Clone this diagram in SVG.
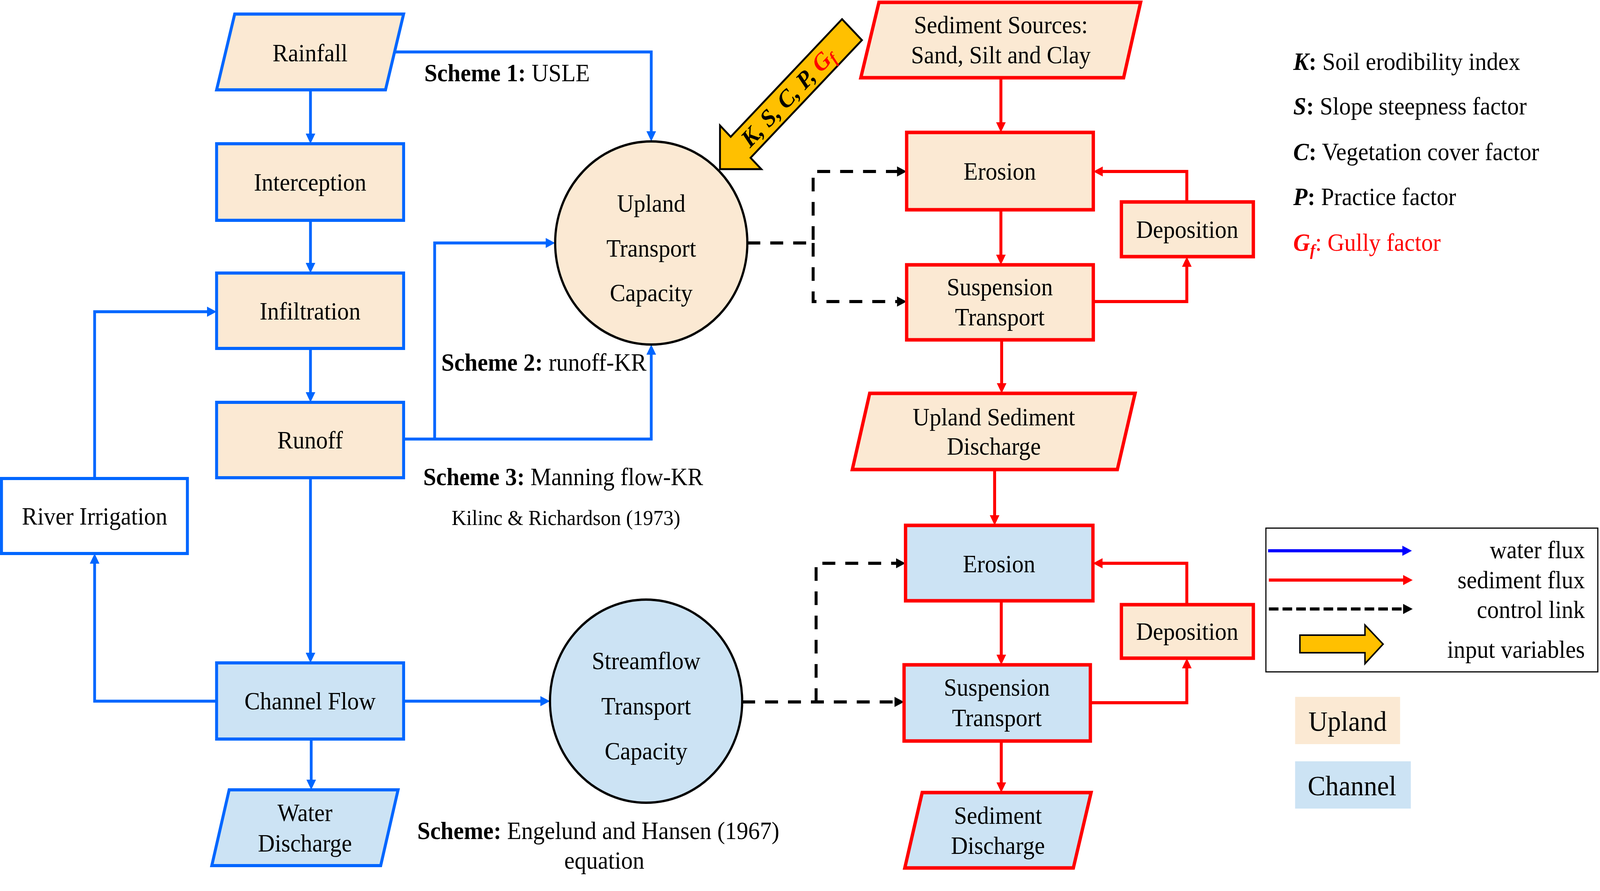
<svg xmlns="http://www.w3.org/2000/svg" width="4329" height="2281" viewBox="0 0 4329 2281">
<style>
text{font-family:"Liberation Serif","Times New Roman",serif;font-size:63px;fill:#000}
.c{text-anchor:middle}
.ub{fill:#FBE9D3;stroke:#0066FF;stroke-width:8}
.cb{fill:#CCE3F4;stroke:#0066FF;stroke-width:8}
.wb{fill:#FFFFFF;stroke:#0066FF;stroke-width:8}
.ur{fill:#FBE9D3;stroke:#FF0000;stroke-width:9}
.cr{fill:#CCE3F4;stroke:#FF0000;stroke-width:9}
.circ{stroke:#000;stroke-width:6}
.wl{fill:none;stroke:#0066FF;stroke-width:7.5;marker-end:url(#ab)}
.sl{fill:none;stroke:#FF0000;stroke-width:8;marker-end:url(#ar)}
.dl{fill:none;stroke:#000;stroke-width:8;stroke-dasharray:35 27;marker-end:url(#ak)}
</style>
<defs>
<marker id="ab" markerUnits="userSpaceOnUse" markerWidth="26" markerHeight="26" refX="6" refY="13" orient="auto"><path d="M0,0 L26,13 L0,26z" fill="#0066FF"/></marker>
<marker id="ab2" markerUnits="userSpaceOnUse" markerWidth="26" markerHeight="26" refX="6" refY="13" orient="auto"><path d="M0,0 L26,13 L0,26z" fill="#0000FF"/></marker>
<marker id="ar" markerUnits="userSpaceOnUse" markerWidth="26" markerHeight="26" refX="6" refY="13" orient="auto"><path d="M0,0 L26,13 L0,26z" fill="#FF0000"/></marker>
<marker id="ak" markerUnits="userSpaceOnUse" markerWidth="26" markerHeight="26" refX="6" refY="13" orient="auto"><path d="M0,0 L26,13 L0,26z" fill="#000"/></marker>
</defs>
<rect width="4329" height="2281" fill="#FFFFFF"/>
<g id="diagram" transform="scale(0.9462,1)">

<g id="connectors">
<path class="wl" d="M840,230 V348"/>
<path class="wl" d="M840,564 V679"/>
<path class="wl" d="M840,892 V1010"/>
<path class="wl" d="M840,1223 V1677"/>
<path class="wl" d="M842,1892 V2002"/>
<path class="wl" d="M1068,133 H1762 V342"/>
<path class="wl" d="M1092,1124 H1762 V902"/>
<path class="wl" d="M1176,1124 V622 H1482"/>
<path class="wl" d="M256,1225 V798 H566"/>
<path class="wl" d="M586,1795 H256 V1437"/>
<path class="wl" d="M1092,1795 H1468"/>

<path class="sl" d="M2708,199 V319"/>
<path class="sl" d="M2708,537 V658"/>
<path class="sl" d="M2958,772 H3211 V677"/>
<path class="sl" d="M3211,517 V439 H2978"/>
<path class="sl" d="M2710,870 V987"/>
<path class="sl" d="M2691,1202 V1325"/>
<path class="sl" d="M2709,1538 V1682"/>
<path class="sl" d="M2950,1799 H3211 V1705"/>
<path class="sl" d="M3211,1548 V1442 H2977"/>
<path class="sl" d="M2709,1897 V2009"/>

<path class="dl" d="M2022,622 H2200 V439 H2433"/>
<path class="dl" d="M2200,622 V772 H2433"/>
<path class="dl" d="M2008,1797 H2426"/>
<path class="dl" d="M2208,1797 V1442 H2430"/>
</g>

<g id="rainfall"><polygon class="ub" points="635,36 1092,36 1043,230 586,230"/><text class="c" x="839" y="157">Rainfall</text></g>
<g id="interception"><rect class="ub" x="586" y="368" width="506" height="196"/><text class="c" x="839" y="488">Interception</text></g>
<g id="infiltration"><rect class="ub" x="586" y="699" width="506" height="193"/><text class="c" x="839" y="818">Infiltration</text></g>
<g id="runoff"><rect class="ub" x="586" y="1030" width="506" height="193"/><text class="c" x="839" y="1148">Runoff</text></g>
<g id="river-irrigation"><rect class="wb" x="4" y="1225" width="503" height="192"/><text class="c" x="256" y="1343">River Irrigation</text></g>
<g id="channel-flow"><rect class="cb" x="586" y="1697" width="506" height="195"/><text class="c" x="839" y="1816">Channel Flow</text></g>
<g id="water-discharge"><polygon class="cb" points="620,2022 1077,2022 1030,2216 573,2216"/><text class="c" x="825" y="2102">Water</text><text class="c" x="825" y="2180">Discharge</text></g>

<g id="upland-capacity"><circle class="circ" cx="1762" cy="622" r="260" fill="#FBE9D3"/><text class="c" x="1762" y="542">Upland</text><text class="c" x="1762" y="657">Transport</text><text class="c" x="1762" y="771">Capacity</text></g>
<g id="streamflow-capacity"><circle class="circ" cx="1748" cy="1795" r="260" fill="#CCE3F4"/><text class="c" x="1748" y="1713">Streamflow</text><text class="c" x="1748" y="1829">Transport</text><text class="c" x="1748" y="1944">Capacity</text></g>

<g id="scheme-labels">
<text x="1148" y="208"><tspan font-weight="bold">Scheme 1:</tspan> USLE</text>
<text x="1194" y="949"><tspan font-weight="bold">Scheme 2:</tspan> runoff-KR</text>
<text x="1145" y="1242"><tspan font-weight="bold">Scheme 3:</tspan> Manning flow-KR</text>
<text x="1222" y="1344" style="font-size:55px">Kilinc &amp; Richardson (1973)</text>
<text x="1129" y="2148"><tspan font-weight="bold">Scheme:</tspan> Engelund and Hansen (1967)</text>
<text class="c" x="1635" y="2224">equation</text>
</g>

<g id="input-arrow" transform="translate(1948,433) rotate(-45)">
<polygon points="0,0 79,-79 79,-38 505,-38 505,38 79,38 79,79" fill="#FFC000" stroke="#000" stroke-width="5"/>
<text x="95" y="20" font-weight="bold" font-style="italic" style="font-size:62px">K, S, C, P, <tspan fill="#FF0000">G<tspan style="font-size:42px" dy="10">f</tspan></tspan></text>
</g>

<g id="sediment-sources"><polygon class="ur" points="2378,6 3086,6 3040,199 2329,199"/><text class="c" x="2708" y="85">Sediment Sources:</text><text class="c" x="2708" y="162">Sand, Silt and Clay</text></g>
<g id="erosion-1"><rect class="ur" x="2453" y="339" width="505" height="198"/><text class="c" x="2705" y="460">Erosion</text></g>
<g id="deposition-1"><rect class="ur" x="3034" y="517" width="357" height="140"/><text class="c" x="3212" y="609">Deposition</text></g>
<g id="suspension-1"><rect class="ur" x="2453" y="678" width="505" height="192"/><text class="c" x="2705" y="756">Suspension</text><text class="c" x="2705" y="833">Transport</text></g>
<g id="upland-sediment-discharge"><polygon class="ur" points="2353,1007 3071,1007 3023,1202 2306,1202"/><text class="c" x="2689" y="1089">Upland Sediment</text><text class="c" x="2689" y="1164">Discharge</text></g>
<g id="erosion-2"><rect class="cr" x="2450" y="1345" width="507" height="193"/><text class="c" x="2703" y="1465">Erosion</text></g>
<g id="deposition-2"><rect class="ur" x="3034" y="1548" width="357" height="137"/><text class="c" x="3212" y="1638">Deposition</text></g>
<g id="suspension-2"><rect class="cr" x="2446" y="1702" width="504" height="195"/><text class="c" x="2697" y="1781">Suspension</text><text class="c" x="2697" y="1859">Transport</text></g>
<g id="sediment-discharge"><polygon class="cr" points="2495,2029 2952,2029 2904,2222 2448,2222"/><text class="c" x="2700" y="2109">Sediment</text><text class="c" x="2700" y="2186">Discharge</text></g>

<g id="variable-key">
<text x="3499" y="179"><tspan font-weight="bold" font-style="italic">K</tspan><tspan font-weight="bold">:</tspan> Soil erodibility index</text>
<text x="3499" y="293"><tspan font-weight="bold" font-style="italic">S</tspan><tspan font-weight="bold">:</tspan> Slope steepness factor</text>
<text x="3499" y="410"><tspan font-weight="bold" font-style="italic">C</tspan><tspan font-weight="bold">:</tspan> Vegetation cover factor</text>
<text x="3499" y="525"><tspan font-weight="bold" font-style="italic">P</tspan><tspan font-weight="bold">:</tspan> Practice factor</text>
<text x="3499" y="642" style="fill:#FF0000"><tspan font-weight="bold" font-style="italic">G</tspan><tspan font-weight="bold" font-style="italic" style="font-size:42px" dy="12">f</tspan><tspan dy="-12">: Gully factor</tspan></text>
</g>

<g id="legend">
<rect x="3425" y="1352" width="898" height="368" fill="#FFFFFF" stroke="#000" stroke-width="3"/>
<path d="M3431,1410 H3800" fill="none" stroke="#0000FF" stroke-width="8" marker-end="url(#ab2)"/>
<path d="M3433,1485 H3802" fill="none" stroke="#FF0000" stroke-width="8" marker-end="url(#ar)"/>
<path d="M3433,1559 H3802" fill="none" stroke="#000" stroke-width="8" stroke-dasharray="26 11" marker-end="url(#ak)"/>
<polygon points="3517,1626 3693,1626 3693,1600 3742,1649 3693,1699 3693,1671 3517,1671" fill="#FFC000" stroke="#000" stroke-width="4"/>
<text x="4288" y="1429" text-anchor="end">water flux</text>
<text x="4288" y="1506" text-anchor="end">sediment flux</text>
<text x="4288" y="1582" text-anchor="end">control link</text>
<text x="4288" y="1684" text-anchor="end">input variables</text>
</g>

<g id="zone-key">
<rect x="3504" y="1784" width="284" height="121" fill="#FBE9D3"/>
<text x="3540" y="1871" style="font-size:72px">Upland</text>
<rect x="3504" y="1949" width="313" height="121" fill="#CCE3F4"/>
<text x="3538" y="2036" style="font-size:72px">Channel</text>
</g>
</g>
</svg>
